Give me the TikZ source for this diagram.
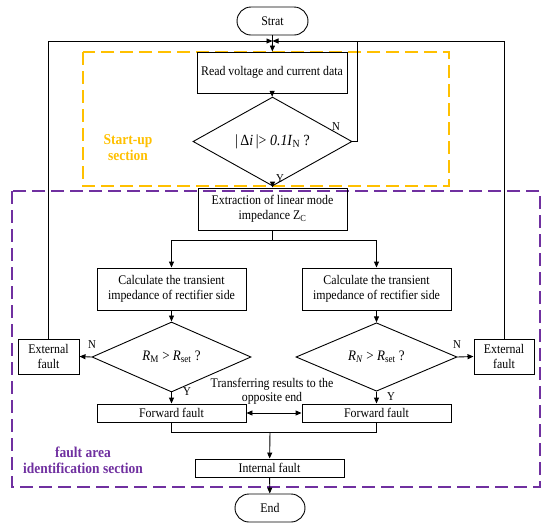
\documentclass[tikz,border=0pt]{standalone}
\usepackage{fontspec}
\setmainfont{Liberation Serif}[FakeStretch=0.9]
\usetikzlibrary{arrows.meta, shapes.geometric}
\definecolor{startup}{RGB}{255,192,0}
\definecolor{faultzone}{RGB}{112,48,160}

\begin{document}
\begin{tikzpicture}[x=1pt, y=-1pt,
    proc box/.style={draw, line width=0.9pt, inner sep=0pt, align=center, font=\fontsize{13.2}{15}\selectfont},
    term box/.style={proc box, rounded corners=14pt, minimum width=71pt, minimum height=28pt},
    decision/.style={draw, diamond, line width=0.9pt, inner sep=0pt, minimum width=159pt, minimum height=61pt, font=\fontsize{14.5}{16}\selectfont},
    flow/.style={line width=0.9pt, -{Triangle[length=6pt, width=5pt]}},
    link/.style={line width=0.9pt},
    yn/.style={font=\fontsize{12}{13}\selectfont, inner sep=0pt},
    zone/.style={line width=2pt, dash pattern=on 13pt off 6pt},
    zone label/.style={font=\fontsize{15}{16}\selectfont\bfseries, align=center, inner sep=0pt}
]
\useasboundingbox (0,0) rectangle (550,528);

% 1. Zonas punteadas (arranque y falla)
\draw[zone, startup] (83,52) rectangle (449,186);
\draw[zone, faultzone] (12,191) rectangle (540,487);
\node[zone label, text=startup] (startup label) at (128,148) {Start-up\\section};
\node[zone label, text=faultzone] (fault label) at (83,460) {fault area\\identification section};

% 2. Cajas del diagrama
\node[term box] (strat) at (272.5,21) {Strat};
\node[proc box, minimum width=150pt, minimum height=41pt] (read) at (272,72.5) {Read voltage and current data};
\node[decision, font=\fontsize{15.5}{16}\selectfont] (check) at (272.5,141.5) {|\,Δ\textit{i}\,|> \textit{0.1I}\textsubscript{N} ?};
\node[proc box, minimum width=149pt, minimum height=42pt] (extract) at (272.5,209) {Extraction of linear mode\\impedance Z\textsubscript{C}};
\node[proc box, minimum width=149pt, minimum height=42pt] (calcM) at (171.5,289) {Calculate the transient\\impedance of rectifier side};
\node[proc box, minimum width=149pt, minimum height=42pt] (calcN) at (376.5,289) {Calculate the transient\\impedance of rectifier side};
\node[decision] (checkM) at (171.5,357) {\textit{R}\textsubscript{M} > \textit{R}\textsubscript{set} ?};
\node[decision, minimum width=161pt] (checkN) at (376.5,357) {\textit{R}\textsubscript{\textit{N}} > \textit{R}\textsubscript{set} ?};
\node[proc box, minimum width=61pt, minimum height=35pt] (extM) at (48.5,356.5) {External\\fault};
\node[proc box, minimum width=60pt, minimum height=35pt] (extN) at (504,356.5) {External\\fault};
\node[proc box, minimum width=149pt, minimum height=18pt] (fwdM) at (171.5,413) {Forward fault};
\node[proc box, minimum width=149pt, minimum height=18pt] (fwdN) at (376.5,413) {Forward fault};
\node[proc box, minimum width=149pt, minimum height=18pt] (internal) at (269.5,468) {Internal fault};
\node[term box, minimum width=70pt] (end) at (270,508) {End};
\node[align=center, font=\fontsize{13.2}{14}\selectfont, inner sep=0pt] (transfer) at (272,391) {Transferring results to the\\opposite end};

% 3. Puntos de union
\coordinate (loop top) at (272.5,41);
\coordinate (n loop) at (357,41);
\coordinate (split) at (272.5,240);
\coordinate (merge) at (270,432);

% 4. Conectores
\draw[link] (strat) -- (loop top);
\draw[flow] (loop top) -- (read);
\draw[flow] (read) -- (check);
\draw[flow] (check) -- (extract);
\draw[link] (check.east) -| (n loop);
\draw[flow] (extM.north) |- (loop top);
\draw[flow] (extN.north) |- (loop top);
\draw[link] (extract) -- (split);
\draw[flow] (split) -| (calcM);
\draw[flow] (split) -| (calcN);
\draw[flow] (calcM) -- (checkM);
\draw[flow] (calcN) -- (checkN);
\draw[flow] (checkM.west) -- (extM.east);
\draw[flow] (checkN.east) -- (extN.west);
\draw[flow] (checkM.south) -- (fwdM.north);
\draw[flow] (checkN.south) -- (fwdN.north);
\draw[link, {Triangle[length=6pt, width=5pt]}-{Triangle[length=6pt, width=5pt]}] (fwdM.east) -- (fwdN.west);
\draw[link] (fwdM.south) |- (merge);
\draw[link] (fwdN.south) |- (merge);
\draw[flow] (merge) -- (internal);
\draw[flow] (internal) -- (end);

% 5. Etiquetas S/N
\node[yn] (y check) at (280,179) {Y};
\node[yn] (n check) at (336,127) {N};
\node[yn] (n checkM) at (92,345) {N};
\node[yn] (y checkM) at (187,392) {Y};
\node[yn] (n checkN) at (457,345) {N};
\node[yn] (y checkN) at (391,397) {Y};

\end{tikzpicture}
\end{document}
